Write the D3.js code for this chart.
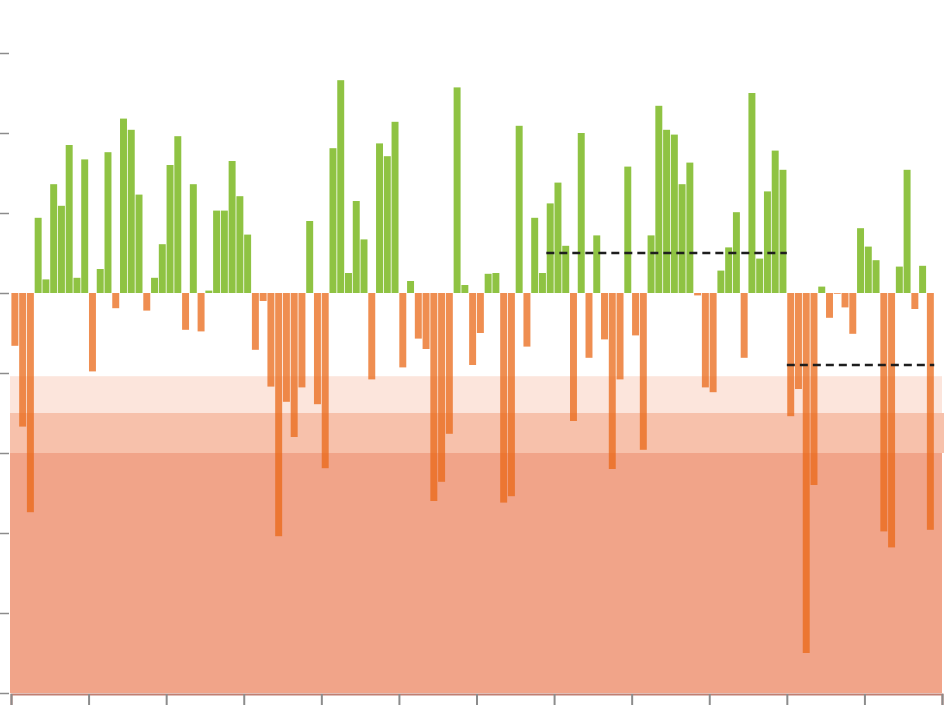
<!DOCTYPE html>
<html>
<head>
<meta charset="utf-8">
<script src="https://cdn.jsdelivr.net/npm/d3@7"></script>
<style>
  body { margin: 0; background: #fff; }
  svg { display: block; }
</style>
</head>
<body>
<svg id="chart" width="944" height="705"></svg>
<script>
// monthly anomaly values, one per slot (slot 119 is empty)
const values = [
  -0.66, -1.67, -2.74, 0.94, 0.17, 1.36, 1.09, 1.85, 0.19, 1.67,
  -0.98, 0.30, 1.76, -0.19, 2.18, 2.04, 1.23, -0.22, 0.19, 0.61,
  1.60, 1.96, -0.46, 1.36, -0.48, 0.03, 1.03, 1.03, 1.65, 1.21,
  0.73, -0.71, -0.10, -1.17, -3.04, -1.36, -1.80, -1.18, 0.90, -1.39,
  -2.19, 1.81, 2.66, 0.25, 1.15, 0.67, -1.08, 1.87, 1.71, 2.14,
  -0.93, 0.15, -0.57, -0.70, -2.60, -2.36, -1.76, 2.57, 0.10, -0.90,
  -0.50, 0.24, 0.25, -2.62, -2.54, 2.09, -0.67, 0.94, 0.25, 1.12,
  1.38, 0.59, -1.60, 2.00, -0.81, 0.72, -0.58, -2.20, -1.08, 1.58,
  -0.53, -1.96, 0.72, 2.34, 2.04, 1.98, 1.36, 1.63, -0.03, -1.18,
  -1.24, 0.28, 0.57, 1.01, -0.81, 2.50, 0.43, 1.27, 1.78, 1.54,
  -1.54, -1.20, -4.50, -2.40, 0.08, -0.31, -0.01, -0.18, -0.51, 0.81,
  0.58, 0.41, -2.98, -3.18, 0.33, 1.54, -0.20, 0.34, -2.96
];
const slotCount = 120;
const xTicks = d3.range(0, 121, 10);
const yTicks = [3, 2, 1, 0, -1, -2, -3, -4, -5];

// shaded warning levels (top edge of each band, bottom is the axis)
const bandLevels = [-1.04, -1.5, -2];
const bandColors = ["#fce5dc", "#f7c1ab", "#f1a489"];

// dashed reference segments
const refStart = [69, 100];
const refEnd = [100, 119];
const refValue = [0.5, -0.9];

const svg = d3.select("#chart");

const x = d3.scaleLinear().domain([0, slotCount]).range([11, 942]);
const y = d3.scaleLinear().domain([-5, 3]).range([693, 53]);

// bands, drawn from the lightest down
bandLevels.forEach((lvl, i) => {
  const next = i < bandLevels.length - 1 ? bandLevels[i + 1] : -5;
  svg.append("rect")
    .attr("x", 10)
    .attr("width", i === 1 ? 934 : 932)
    .attr("y", y(lvl))
    .attr("height", y(next) - y(lvl))
    .attr("fill", bandColors[i]);
});

// bars
const pad = 0.8;
svg.append("g")
  .selectAll("rect")
  .data(values)
  .join("rect")
  .attr("x", (d, i) => x(i) + pad / 2)
  .attr("width", (d, i) => x(i + 1) - x(i) - pad)
  .attr("y", (d) => y(Math.max(0, d)))
  .attr("height", (d) => Math.abs(y(d) - y(0)))
  .attr("fill", (d) => (d >= 0 ? "#8fc343" : "#ea6614"))
  .attr("fill-opacity", (d) => (d >= 0 ? 1 : 0.74));

// dashed reference lines
svg.append("g")
  .selectAll("line")
  .data(refValue)
  .join("line")
  .attr("x1", (d, i) => x(refStart[i]))
  .attr("x2", (d, i) => x(refEnd[i]))
  .attr("y1", (d) => y(d))
  .attr("y2", (d) => y(d))
  .attr("stroke", "#1e1e1e")
  .attr("stroke-width", 2.6)
  .attr("stroke-dasharray", "8,5");

// left axis: ticks only, no labels
const yAxis = svg.append("g")
  .attr("transform", "translate(9,0)")
  .call(d3.axisLeft(y).tickValues(yTicks).tickSize(9).tickFormat(""));
yAxis.select(".domain").remove();
yAxis.selectAll(".tick line").attr("stroke", "#8c8c8c").attr("stroke-width", 1.5);

// bottom axis
const xAxis = svg.append("g")
  .attr("transform", "translate(0,694)")
  .call(d3.axisBottom(x).tickValues(xTicks).tickSizeOuter(0).tickSize(12).tickFormat(""));
xAxis.select(".domain").attr("stroke", "#c07f72").attr("stroke-width", 2);
xAxis.selectAll(".tick line").attr("stroke", "#8c8c8c").attr("stroke-width", 2);
</script>
</body>
</html>
